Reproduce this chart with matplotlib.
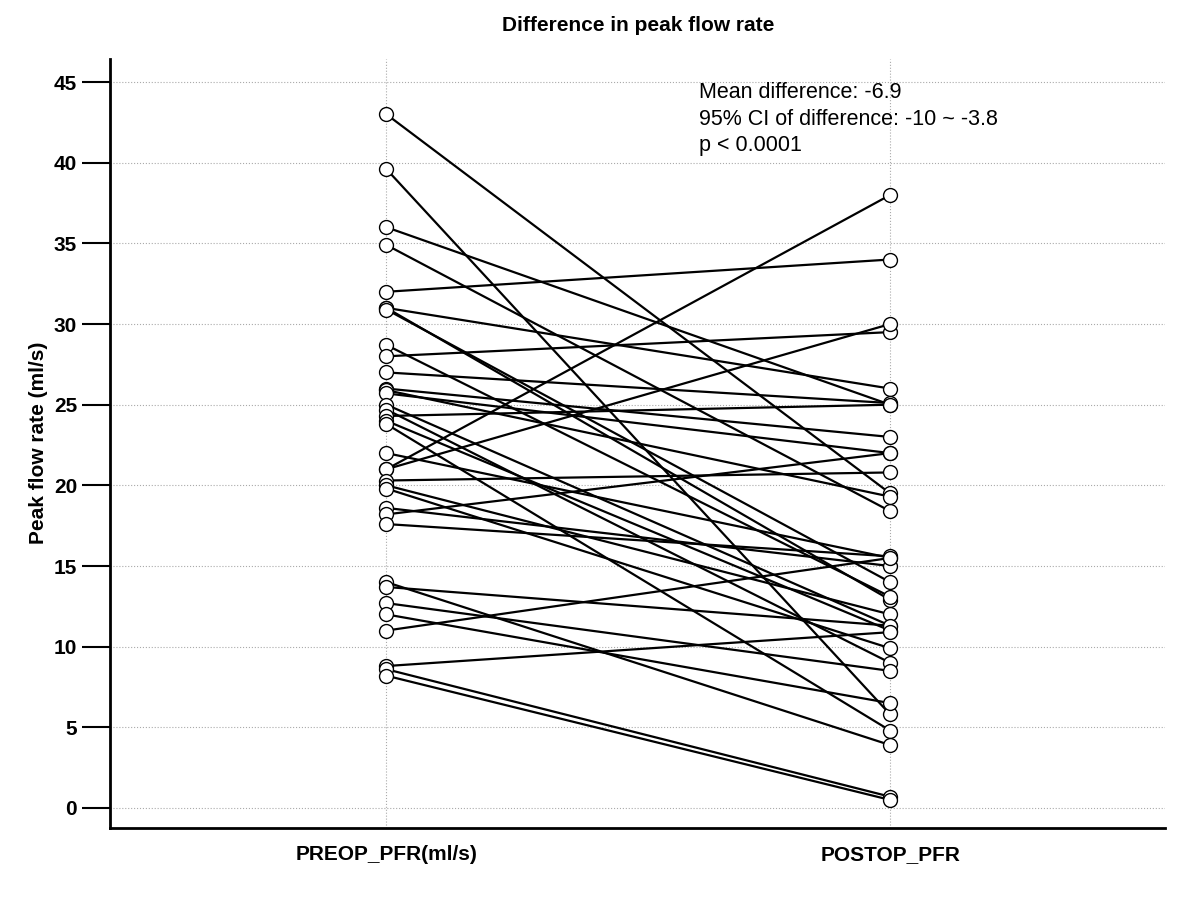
import matplotlib.pyplot as plt

plt.rcParams['font.family'] = ['Liberation Sans', 'DejaVu Sans']

# paired peak flow rate values (ml/s)
preop = [43.0, 39.6, 36.0, 34.9, 32.0, 31.0, 31.0, 30.9, 28.7, 28.0, 27.0, 26.0, 25.9,
         25.7, 25.0, 24.7, 24.3, 24.0, 23.8, 22.0, 21.0, 21.0, 20.3, 20.0, 19.8, 18.6,
         18.2, 17.6, 14.0, 13.7, 12.7, 12.0, 11.0, 8.8, 8.6, 8.2]
postop = [19.5, 5.8, 25.0, 18.4, 34.0, 12.9, 26.0, 14.0, 13.1, 29.5, 25.1, 23.0, 19.3,
          22.0, 11.3, 9.0, 25.0, 11.0, 4.8, 15.5, 38.0, 30.0, 20.8, 12.0, 9.9, 15.0,
          22.0, 15.6, 3.9, 11.3, 8.5, 6.5, 15.5, 10.9, 0.7, 0.5]
groups = ["PREOP_PFR(ml/s)", "POSTOP_PFR"]
yticks = [0, 5, 10, 15, 20, 25, 30, 35, 40, 45]

fig = plt.figure(figsize=(12, 9), dpi=100)
ax = fig.add_axes([0.092, 0.08, 0.879, 0.855])

for a, b in zip(preop, postop):
    ax.plot([0, 1], [a, b], color="black", lw=1.6, zorder=2,
            marker="o", ms=10, mfc="white", mec="black", mew=1)

ax.set_xlim(-0.548, 1.546)
ax.set_ylim(-1.24, 46.46)
ax.set_xticks([0, 1])
ax.set_xticklabels(groups, fontsize=15, fontweight="bold")
ax.set_yticks(yticks)
ax.set_yticklabels([str(t) for t in yticks], fontsize=15, fontweight="bold")
ax.grid(True, color="#aaaaaa", ls=":", lw=0.8, zorder=0)
ax.set_axisbelow(True)
for s in ["top", "right"]:
    ax.spines[s].set_visible(False)
for s in ["left", "bottom"]:
    ax.spines[s].set_linewidth(2)
ax.tick_params(axis="y", direction="out", length=20, width=1.5, pad=4)
ax.tick_params(axis="x", length=0, pad=12)
ax.set_ylabel("Peak flow rate (ml/s)", fontsize=15, fontweight="bold")
ax.set_title("Difference in peak flow rate", fontsize=15, fontweight="bold", pad=20)

ax.text(0.62, 45.0, "Mean difference: -6.9\n95% CI of difference: -10 ~ -3.8\np < 0.0001",
        fontsize=15.5, va="top", linespacing=1.35)

fig.savefig("out.png")
